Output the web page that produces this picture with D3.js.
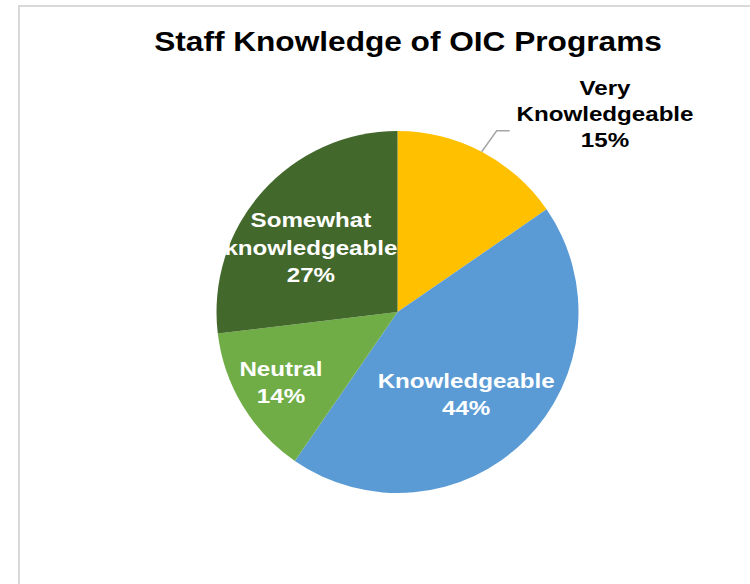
<!DOCTYPE html>
<html>
<head>
<meta charset="UTF-8">
<style>
  body { margin: 0; background: #fff; }
  text { font-family: Arial, "Liberation Sans", sans-serif; font-weight: bold; }
</style>
</head>
<body>
<svg width="750" height="584"></svg>
<script src="https://cdn.jsdelivr.net/npm/d3@7"></script>
<script>

// chart data (shares, labels rounded)
var categories = ["Very Knowledgeable", "Knowledgeable", "Neutral", "Somewhat knowledgeable"];
var labelLines = [["Very", "Knowledgeable"], ["Knowledgeable"], ["Neutral"], ["Somewhat", "knowledgeable"]];
var values = [15.4, 44.2, 13.5, 26.9];
var colors = ["#FFC000", "#5B9BD5", "#70AD47", "#43682B"];

var svg = d3.select("svg"),
  cx = 397.5, cy = 312, radius = 181,
  stretch = 1.15; // text in the original is a bit wider than Arial

// chart frame
svg.append("rect")
  .attr("x", 19).attr("y", 6)
  .attr("width", 800).attr("height", 700)
  .attr("fill", "none")
  .attr("stroke", "#d9d9d9")
  .attr("stroke-width", 2);

svg.append("g")
  .attr("transform", "translate(408,51) scale(" + stretch + ",1)")
  .append("text")
  .attr("text-anchor", "middle")
  .attr("font-size", "27.5px")
  .attr("fill", "#000")
  .text("Staff Knowledge of OIC Programs");

var pie = d3.pie().sort(null).value(function(d) { return d; });
var arcs = pie(values);

var arc = d3.arc().innerRadius(0).outerRadius(radius);

var g = svg.append("g").attr("transform", "translate(" + cx + "," + cy + ")");

g.selectAll("path")
  .data(arcs)
  .enter().append("path")
  .attr("d", arc)
  .attr("fill", function(d, i) { return colors[i]; });

// label placement: distance from centre and angle nudge (deg) per slice
var labelR = [0, 107, 136, 108];
var labelNudge = [0, 5.1, 0.1, -4.9];

arcs.forEach(function(d, i) {
  var lines = labelLines[i].concat([Math.round(values[i]) + "%"]);
  var x, y, fill, lh = 27.5;
  if (i === 0) {
    // outside label with leader line
    var mid = (d.startAngle + d.endAngle) / 2;
    var px = radius * Math.sin(mid), py = -radius * Math.cos(mid);
    g.append("polyline")
      .attr("points", [[px, py], [px + 15, py - 21], [px + 28, py - 21]].map(function(p) { return p.join(","); }).join(" "))
      .attr("fill", "none")
      .attr("stroke", "#a6a6a6")
      .attr("stroke-width", 1.5);
    x = 605 - cx; y = 114 - cy; fill = "#000"; lh = 26;
  } else {
    var a = (d.startAngle + d.endAngle) / 2 + labelNudge[i] * Math.PI / 180;
    x = labelR[i] * Math.sin(a);
    y = -labelR[i] * Math.cos(a);
    fill = "#fff";
  }
  var t = g.append("g")
    .attr("transform", "translate(" + x + "," + y + ") scale(" + stretch + ",1)")
    .append("text")
    .attr("text-anchor", "middle")
    .attr("font-size", "21px")
    .attr("fill", fill);
  var y0 = -(lines.length - 1) * lh / 2;
  lines.forEach(function(s, k) {
    t.append("tspan")
      .attr("x", 0)
      .attr("y", y0 + k * lh)
      .attr("dy", "0.35em")
      .text(s);
  });
});

</script>
</body>
</html>
